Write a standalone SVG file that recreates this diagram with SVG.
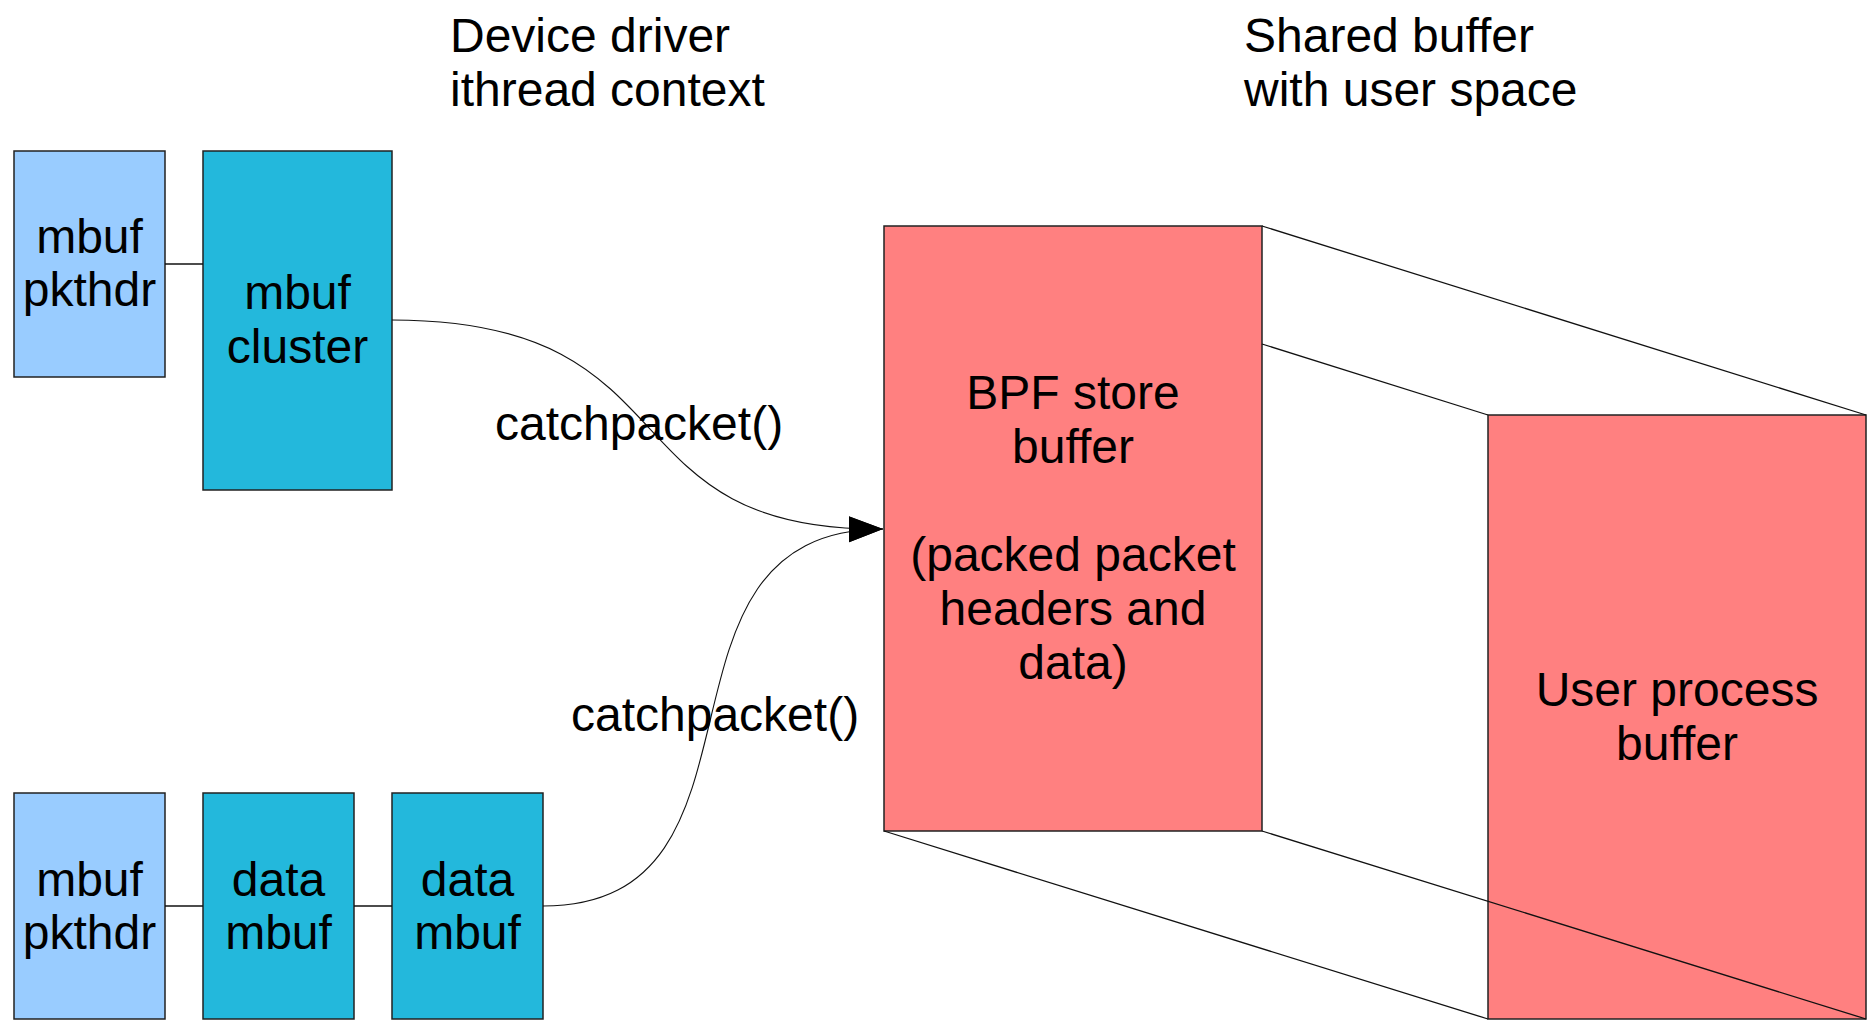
<svg xmlns="http://www.w3.org/2000/svg" width="1875" height="1024" viewBox="0 0 1875 1024">
<style>
text{font-family:"Liberation Sans",Arial,sans-serif;font-size:48px;fill:#000;}
.c{text-anchor:middle;}
.hdr{fill:#99ccff;stroke:#222;stroke-width:1.5;}
.dat{fill:#23b8dc;stroke:#222;stroke-width:1.5;}
.buf{fill:#ff8080;stroke:#222;stroke-width:1.5;}
.ln{fill:none;stroke:#111;stroke-width:1.3;}
.cv{fill:none;stroke:#111;stroke-width:1.1;}
</style>
<defs>
<marker id="ah" markerUnits="userSpaceOnUse" markerWidth="36" markerHeight="28" refX="34" refY="13" orient="auto">
<path d="M0,0 L34,13 L0,26 Z" fill="#000"/>
</marker>
</defs>
<rect width="1875" height="1024" fill="#fff"/>
<g id="titles">
<text x="450" y="52">Device driver</text>
<text x="450" y="106">ithread context</text>
<text x="1244" y="52">Shared buffer</text>
<text x="1244" y="106">with user space</text>
</g>
<g id="bpf">
<rect class="buf" x="884" y="226" width="378" height="605"/>
<text class="c" x="1073" y="409">BPF store</text>
<text class="c" x="1073" y="463">buffer</text>
<text class="c" x="1073" y="571">(packed packet</text>
<text class="c" x="1073" y="625">headers and</text>
<text class="c" x="1073" y="679">data)</text>
</g>
<g id="user">
<rect class="buf" x="1488" y="415" width="378" height="604"/>
<text class="c" x="1677" y="706">User process</text>
<text class="c" x="1677" y="760">buffer</text>
</g>
<g id="pkthdr1">
<rect class="hdr" x="14" y="151" width="151" height="226"/>
<text class="c" x="89.5" y="253">mbuf</text>
<text class="c" x="89.5" y="306">pkthdr</text>
</g>
<g id="cluster">
<rect class="dat" x="203" y="151" width="189" height="339"/>
<text class="c" x="297.5" y="309">mbuf</text>
<text class="c" x="297.5" y="363">cluster</text>
</g>
<g id="pkthdr2">
<rect class="hdr" x="14" y="793" width="151" height="226"/>
<text class="c" x="89.5" y="896">mbuf</text>
<text class="c" x="89.5" y="949">pkthdr</text>
</g>
<g id="data1">
<rect class="dat" x="203" y="793" width="151" height="226"/>
<text class="c" x="278.5" y="896">data</text>
<text class="c" x="278.5" y="949">mbuf</text>
</g>
<g id="data2">
<rect class="dat" x="392" y="793" width="151" height="226"/>
<text class="c" x="467.5" y="896">data</text>
<text class="c" x="467.5" y="949">mbuf</text>
</g>
<g id="connectors">
<line class="ln" x1="165" y1="264" x2="203" y2="264"/>
<line class="ln" x1="165" y1="906" x2="203" y2="906"/>
<line class="ln" x1="354" y1="906" x2="392" y2="906"/>
<path class="cv" d="M392,320 C700,320 600,532 883,529" marker-end="url(#ah)"/>
<path class="cv" d="M543,906 C790,906 630,530 883,529" marker-end="url(#ah)"/>
<line class="ln" x1="1262" y1="226" x2="1866" y2="415"/>
<line class="ln" x1="1262" y1="344" x2="1488" y2="415"/>
<line class="ln" x1="884" y1="831" x2="1488" y2="1019"/>
<line class="ln" x1="1262" y1="831" x2="1866" y2="1019"/>
</g>
<g id="labels">
<text x="495" y="440">catchpacket()</text>
<text x="571" y="731">catchpacket()</text>
</g>
</svg>
